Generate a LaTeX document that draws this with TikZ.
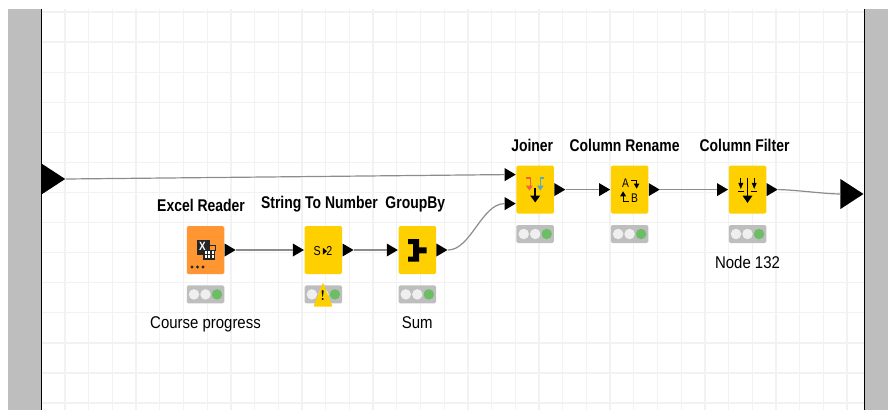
\documentclass[tikz,border=0pt]{standalone}
\usepackage{amsmath,amssymb}
\usepackage{fontspec}
\usepackage{tikz}
\usetikzlibrary{positioning,arrows,calc,shapes.geometric}

\newfontfamily\knimefont[FakeStretch=0.82]{Liberation Sans}
\newfontfamily\knimecapfont[FakeStretch=0.88]{Liberation Sans}

\definecolor{panelgray}{HTML}{BEBEBE}
\definecolor{gridgray}{HTML}{F2F2F2}
\definecolor{wiregray}{HTML}{8C8C8C}
\definecolor{knimeyellow}{HTML}{FFD000}
\definecolor{knimeorange}{HTML}{FF9632}
\definecolor{lightgreen}{HTML}{6CBE64}
\definecolor{lightoff}{HTML}{EFEFEF}
\definecolor{joinred}{HTML}{F0604C}
\definecolor{joinblue}{HTML}{5CA8C0}

\tikzset{
  knode/.style={fill=knimeyellow, rounded corners=1.5pt, minimum width=37.5pt, minimum height=48pt, inner sep=0pt},
  kreader/.style={knode, fill=knimeorange},
  kstatus/.style={fill=panelgray, rounded corners=1.5pt, minimum width=37.5pt, minimum height=18pt, inner sep=0pt},
  ktitle/.style={font=\knimefont\bfseries\fontsize{17}{17}\selectfont, text=black, inner sep=0pt},
  kcaption/.style={font=\knimecapfont\fontsize{17}{17}\selectfont, text=black, inner sep=0pt},
  kport/.style={isosceles triangle, isosceles triangle stretches, fill=black, minimum width=13pt, minimum height=11pt, inner sep=0pt, shape border rotate=0},
  kbigport/.style={kport, minimum width=30pt, minimum height=23pt},
  kwire/.style={draw=wiregray, line width=1.2pt},
  kicon/.style={line width=1.6pt, black},
  kled/.style={circle, fill=lightoff, minimum size=10.5pt, inner sep=0pt},
  kledon/.style={kled, fill=lightgreen},
}

\begin{document}
\begin{tikzpicture}[x=1pt,y=-1pt]

  \useasboundingbox (0,0) rectangle (888,410);

  % grid and side bars
  \foreach \gx in {0,...,33} {
    \draw[gridgray, line width=1.3pt] ({65+23.7*\gx},9) -- ({65+23.7*\gx},410);
  }
  \foreach \gy in {0,...,13} {
    \draw[gridgray, line width=1.3pt] (42,{12+30.08*\gy}) -- (864,{12+30.08*\gy});
  }
  \fill[panelgray] (8,9) rectangle (41,410);
  \fill[panelgray] (865,9) rectangle (888,410);
  \draw[black, line width=1.3pt] (41.5,9) -- (41.5,410);
  \draw[black, line width=1.3pt] (864.5,9) -- (864.5,410);

  % nodes
  \node[kreader] (reader) at (205.5,250) {};
  \node[knode] (string) [right=80pt of reader] {};
  \node[knode] (groupby) [right=56pt of string] {};
  \node[knode] (joiner) [above right=12pt and 80pt of groupby] {};
  \node[knode] (rename) [right=56.5pt of joiner] {};
  \node[knode] (filter) [right=80pt of rename] {};

  % titles
  \node[ktitle] (t0) [above=14pt of reader, xshift=-4.5pt] {Excel Reader};
  \node[ktitle] (t1) [above=14pt of string, xshift=-4pt] {String To Number};
  \node[ktitle] (t2) [above=14pt of groupby, xshift=-2pt] {GroupBy};
  \node[ktitle] (t3) [above=14pt of joiner, xshift=-3pt] {Joiner};
  \node[ktitle] (t4) [above=14pt of rename, xshift=-5pt] {Column Rename};
  \node[ktitle] (t5) [above=14pt of filter, xshift=-3pt] {Column Filter};

  % status lights
  \node[kstatus] (s0) [below=11pt of reader] {};
  \node[kstatus] (s1) [below=11pt of string] {};
  \node[kstatus] (s2) [below=11pt of groupby] {};
  \node[kstatus] (s3) [below=11pt of joiner] {};
  \node[kstatus] (s4) [below=11pt of rename] {};
  \node[kstatus] (s5) [below=11pt of filter] {};
  \foreach \s in {s0,s1,s2,s3,s4,s5} {
    \node[kled] at ($(\s)+(-11.5,0)$) {};
    \node[kled] at ($(\s)+(0,0)$) {};
    \node[kledon] at ($(\s)+(11.5,0)$) {};
  }

  % captions
  \node[kcaption] (c0) [below=13pt of s0] {Course progress};
  \node[kcaption] (c2) [below=13pt of s2] {Sum};
  \node[kcaption] (c5) [below=13pt of s5] {Node 132};

  % warning
  \node[isosceles triangle, isosceles triangle stretches, shape border rotate=90, fill=knimeyellow, minimum width=19pt, minimum height=24pt, inner sep=0pt, rounded corners=1pt, anchor=apex] (warn) at (323,282) {};
  \node[font=\bfseries\fontsize{14}{14}\selectfont, inner sep=0pt] (warnmark) at (322.7,296) {!};

  % ports
  \node[kbigport, anchor=west] (inflow) at (42,179) {};
  \node[kbigport, anchor=east] (outflow) at (864,194) {};
  \node[kport, anchor=west] (o0) at (reader.east) {};
  \node[kport, anchor=east] (i1) at (string.west) {};
  \node[kport, anchor=west] (o1) at (string.east) {};
  \node[kport, anchor=east] (i2) at (groupby.west) {};
  \node[kport, anchor=west] (o2) at (groupby.east) {};
  \node[kport, anchor=east] (i3a) at ($(joiner.west)+(0,-15)$) {};
  \node[kport, anchor=east] (i3b) at ($(joiner.west)+(0,14)$) {};
  \node[kport, anchor=west] (o3) at (joiner.east) {};
  \node[kport, anchor=east] (i4) at (rename.west) {};
  \node[kport, anchor=west] (o4) at (rename.east) {};
  \node[kport, anchor=east] (i5) at (filter.west) {};
  \node[kport, anchor=west] (o5) at (filter.east) {};

  % wires
  \path[kwire] (inflow.east) edge (i3a.west);
  \path[kwire] (o0.east) edge (i1.west);
  \path[kwire] (o1.east) edge (i2.west);
  \path[kwire] (o2.east) edge[out=0, in=180, looseness=.8] (i3b.west);
  \path[kwire] (o3.east) edge (i4.west);
  \path[kwire] (o4.east) edge (i5.west);
  \path[kwire] (o5.east) edge[out=0, in=180, looseness=.6] (outflow.west);

  % icon: excel reader
  \fill[black!85] ($(reader)+(-8.5,-10)$) rectangle ($(reader)+(4.5,5)$);
  \node[font=\knimefont\bfseries\fontsize{12}{12}\selectfont, text=white, inner sep=0pt] (xmark) at ($(reader)+(-3,-3.5)$) {X};
  \draw[black!85, line width=.8pt] ($(reader)+(2,-5)$) rectangle ($(reader)+(9.5,0)$);
  \fill[black!85] ($(reader)+(-2.5,0)$) rectangle ($(reader)+(9.5,10)$);
  \foreach \ix in {0,3.5,7} {
    \foreach \iy in {2.5,6.5} {
      \fill[white] ($(reader)+(\ix-1,\iy-1.2)$) rectangle ($(reader)+(\ix+1,\iy+1.2)$);
    }
  }
  \foreach \ix in {-13.5,-8,-2.5} {
    \fill[black!85] ($(reader)+(\ix,17)$) circle (1.6);
  }

  % icon: string to number
  \node[font=\knimefont\fontsize{13}{13}\selectfont, inner sep=0pt] (slabel) at ($(string)+(-6.3,1)$) {S};
  \node[font=\knimefont\fontsize{13}{13}\selectfont, inner sep=0pt] (nlabel) at ($(string)+(6,1)$) {2};
  \fill[black] ($(string)+(-.5,-2.2)$) -- ($(string)+(3.7,1.2)$) -- ($(string)+(-.5,4.6)$) -- cycle;

  % icon: groupby
  \fill[black] ($(groupby)+(-9.3,-11)$) -- ++(11,0) -- ++(0,8.3) -- ++(7.6,0) -- ++(0,6) -- ++(-7.6,0)
    -- ++(0,8.4) -- ++(-11,0) -- ++(0,-5) -- ++(5,0) -- ++(0,-12.7) -- ++(-5,0) -- cycle;

  % icon: joiner
  \draw[joinred, line width=1.4pt] ($(joiner)+(-9.3,-11.7)$) -- ++(4.3,0) -- ++(0,8);
  \fill[joinred] ($(joiner)+(-9.3,-4)$) -- ++(7,0) -- ++(-3.5,5) -- cycle;
  \draw[joinblue, line width=1.4pt] ($(joiner)+(9,-11.7)$) -- ++(-4,0) -- ++(0,8);
  \fill[joinblue] ($(joiner)+(1.7,-4)$) -- ++(6.8,0) -- ++(-3.4,5) -- cycle;
  \draw[kicon] ($(joiner)+(0,-1.7)$) -- ($(joiner)+(0,7)$);
  \fill[black] ($(joiner)+(-5,6)$) -- ++(10,0) -- ++(-5,6.8) -- cycle;

  % icon: column rename
  \node[font=\knimefont\fontsize{12.5}{12.5}\selectfont, inner sep=0pt] (alabel) at ($(rename)+(-4,-6)$) {A};
  \node[font=\knimefont\fontsize{12.5}{12.5}\selectfont, inner sep=0pt] (blabel) at ($(rename)+(5,8.3)$) {B};
  \draw[black, line width=1.2pt] ($(rename)+(1.5,-9.3)$) -- ++(5.5,0) -- ++(0,5);
  \fill[black] ($(rename)+(4.2,-6)$) -- ++(5.6,0) -- ++(-2.8,5) -- cycle;
  \draw[black, line width=1.2pt] ($(rename)+(-.8,11.7)$) -- ++(-5.7,0) -- ++(0,-6);
  \fill[black] ($(rename)+(-9.5,6.7)$) -- ++(6,0) -- ++(-3,-5) -- cycle;

  % icon: column filter
  \draw[kicon] ($(filter)+(0,-11.7)$) -- ($(filter)+(0,8)$);
  \fill[black] ($(filter)+(-5,6)$) -- ++(10,0) -- ++(-5,7.3) -- cycle;
  \draw[black, line width=1.1pt] ($(filter)+(-6.7,-11.7)$) -- ++(0,7);
  \fill[black] ($(filter)+(-9.2,-6.7)$) -- ++(5,0) -- ++(-2.5,6) -- cycle;
  \draw[black, line width=1.2pt] ($(filter)+(-9.5,2)$) -- ++(6.3,0);
  \draw[black, line width=1.1pt] ($(filter)+(6.7,-11.7)$) -- ++(0,7);
  \fill[black] ($(filter)+(4.2,-6.7)$) -- ++(5,0) -- ++(-2.5,6) -- cycle;
  \draw[black, line width=1.2pt] ($(filter)+(3.4,2)$) -- ++(6.3,0);

\end{tikzpicture}
\end{document}
